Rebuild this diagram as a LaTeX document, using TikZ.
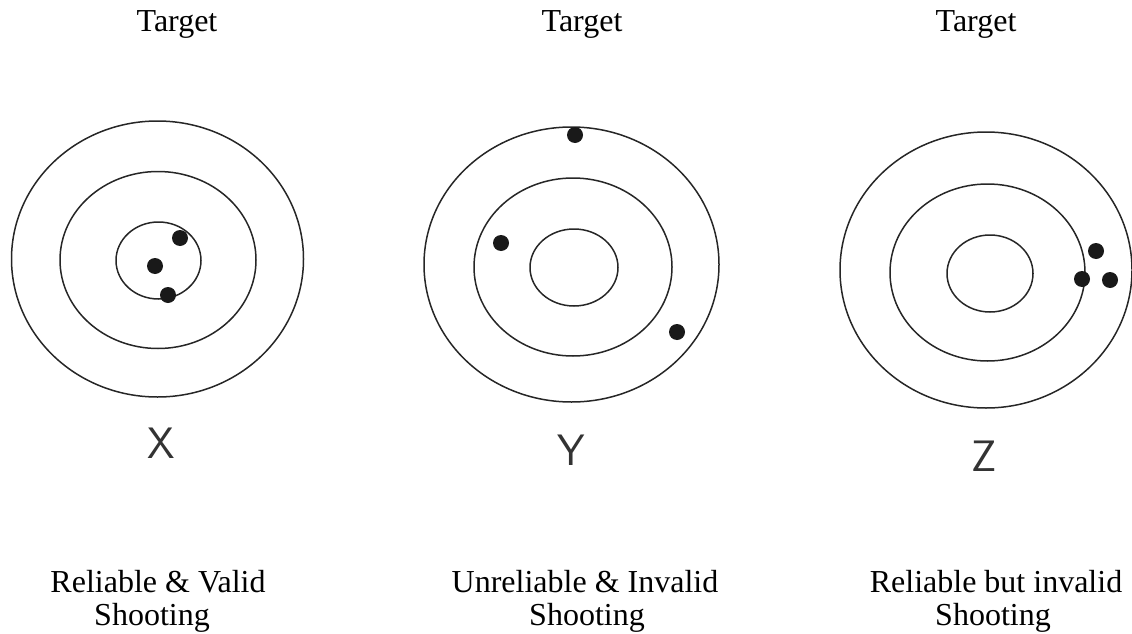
\documentclass[tikz,border=0pt]{standalone}
\usepackage{fontspec}
\setmainfont{Liberation Serif}
\begin{document}
\begin{tikzpicture}[x=1pt,y=-1pt,
  ring/.style={draw=black!85,line width=1.5pt},
  hit/.style={fill=black!90},
  captxt/.style={font=\fontsize{32}{38}\selectfont,anchor=base,inner sep=0pt},
  lbl/.style={font=\sffamily\fontsize{44}{44}\selectfont,anchor=base,inner sep=0pt,text=black!80}]
\useasboundingbox (0,0) rectangle (1132,634);
% Titles
\node[captxt] (t1) at (177,32) {Target};
\node[captxt] (t2) at (582,32) {Target};
\node[captxt] (t3) at (976,32) {Target};
% Target X
\draw[ring] (157.5,259) ellipse [x radius=146,y radius=138];
\draw[ring] (158,260) ellipse [x radius=98,y radius=88.5];
\draw[ring] (158.5,260.5) ellipse [x radius=42.5,y radius=38.5];
\fill[hit] (180,238) circle [radius=8];
\fill[hit] (155,266) circle [radius=8];
\fill[hit] (168,295) circle [radius=8];
% Target Y
\draw[ring] (571.5,264.5) ellipse [x radius=147.5,y radius=137.5];
\draw[ring] (573,267) ellipse [x radius=99,y radius=89];
\draw[ring] (574,267.5) ellipse [x radius=44,y radius=38.5];
\fill[hit] (575,135) circle [radius=8];
\fill[hit] (501,243) circle [radius=8];
\fill[hit] (677,332) circle [radius=8];
% Target Z
\draw[ring] (986,270) ellipse [x radius=146,y radius=138];
\draw[ring] (987.5,272.5) ellipse [x radius=97.5,y radius=88.5];
\draw[ring] (990,273.5) ellipse [x radius=43,y radius=38.5];
\fill[hit] (1096,251) circle [radius=8];
\fill[hit] (1082,279) circle [radius=8];
\fill[hit] (1110,280) circle [radius=8];
% Letters
\node[lbl] (lx) at (161,458) {X};
\node[lbl] (ly) at (571,465) {Y};
\node[lbl] (lz) at (984,471) {Z};
% Captions
\node[captxt] (c1a) at (158,592) {Reliable \& Valid};
\node[captxt] (c1b) at (152,625) {Shooting};
\node[captxt] (c2a) at (585,592) {Unreliable \& Invalid};
\node[captxt] (c2b) at (587,625) {Shooting};
\node[captxt] (c3a) at (996,592) {Reliable but invalid};
\node[captxt] (c3b) at (993,625) {Shooting};
\end{tikzpicture}
\end{document}
